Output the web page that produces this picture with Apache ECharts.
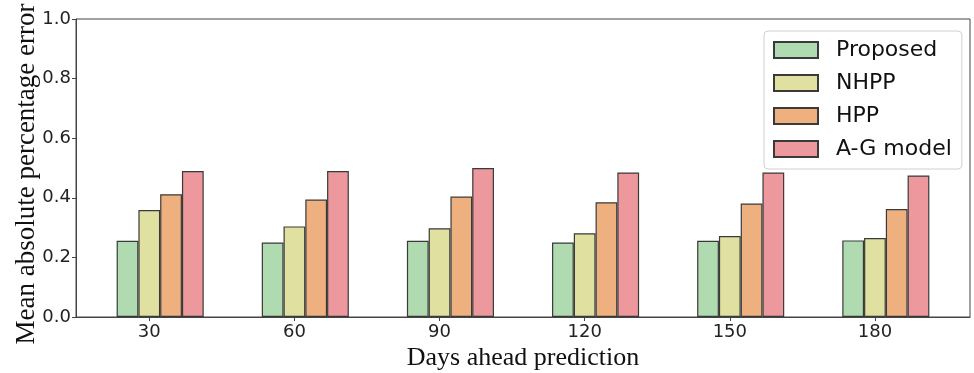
<!DOCTYPE html>
<html>
<head>
<meta charset="utf-8">
<script src="https://cdn.jsdelivr.net/npm/echarts@6/dist/echarts.min.js"></script>
<style>html,body{margin:0;padding:0;background:#fff}#c{width:974px;height:373px}</style>
</head>
<body>
<div id="c"></div>
<script>
const categories = ['30', '60', '90', '120', '150', '180'];
const seriesNames = ['Proposed', 'NHPP', 'HPP', 'A-G model'];
const proposed = [0.256, 0.250, 0.256, 0.250, 0.256, 0.257];
const nhpp     = [0.359, 0.304, 0.298, 0.281, 0.272, 0.265];
const hpp      = [0.412, 0.394, 0.404, 0.385, 0.381, 0.362];
const agModel  = [0.490, 0.490, 0.500, 0.485, 0.485, 0.475];
const yTicks = [0, 0.2, 0.4, 0.6, 0.8, 1.0];

const colors = ['#B0DAB0', '#E0E1A0', '#EDB07E', '#EC989C'];
const allValues = [proposed, nhpp, hpp, agModel];

// matplotlib-like layout: bar width 0.15, bars at i-w, i, i+w, i+2w; 5% margins
const W = 0.15;
const offsets = [-W, 0, W, 2 * W];
const dataMin = -W - W / 2, dataMax = categories.length - 1 + 2 * W + W / 2;
const span = dataMax - dataMin;
const xMin = dataMin - 0.05 * span, xMax = dataMax + 0.05 * span;
const gridLeft = 76, gridRight = 4;
const gridWidth = 974 - gridLeft - gridRight;
const barPx = W * gridWidth / (xMax - xMin);
const idx = categories.map((_, i) => i);

const series = seriesNames.map((name, k) => ({
  name: name,
  type: 'bar',
  barWidth: barPx,
  barGap: '-100%',
  itemStyle: { color: colors[k], borderColor: '#3a3a3a', borderWidth: 1.2 },
  emphasis: { disabled: true },
  data: allValues[k].map((v, i) => [i + offsets[k], v])
}));

const chart = echarts.init(document.getElementById('c'), null, { renderer: 'canvas' });
chart.setOption({
  animation: false,
  backgroundColor: '#fff',
  textStyle: { fontFamily: 'DejaVu Sans' },
  grid: { left: gridLeft, right: gridRight, top: 19, bottom: 56, outerBoundsMode: 'none', containLabel: false, show: true, borderColor: '#444', borderWidth: 1, backgroundColor: 'transparent' },
  legend: {
    orient: 'vertical',
    left: 764, top: 31,
    padding: [8, 10, 9, 9],
    itemWidth: 44, itemHeight: 16, itemGap: 11,
    backgroundColor: '#fff',
    borderColor: '#d0d0d0', borderWidth: 1, borderRadius: 4,
    icon: 'rect',
    textStyle: { fontFamily: 'DejaVu Sans', fontSize: 22, color: '#111', padding: [0, 0, 0, 13] },
    data: seriesNames
  },
  xAxis: {
    type: 'value',
    min: xMin, max: xMax,
    name: 'Days ahead prediction',
    nameLocation: 'middle',
    nameGap: 28,
    nameMoveOverlap: false,
    nameTextStyle: { fontFamily: 'Liberation Serif', fontSize: 26, color: '#111', verticalAlign: 'top' },
    axisLine: { show: true, onZero: false, lineStyle: { color: '#444', width: 1 } },
    axisTick: { show: true, customValues: idx, length: 4, lineStyle: { color: '#444' } },
    axisLabel: { customValues: idx, formatter: v => categories[Math.round(v)], fontFamily: 'DejaVu Sans', fontSize: 18, color: '#222', margin: 6 },
    splitLine: { show: false }
  },
  yAxis: {
    type: 'value',
    min: 0, max: 1, interval: 0.2,
    name: 'Mean absolute percentage error',
    nameLocation: 'middle',
    nameGap: 36,
    nameMoveOverlap: false,
    nameTextStyle: { fontFamily: 'Liberation Serif', fontSize: 27, color: '#111', padding: [0, 12, 0, 0] },
    axisLine: { show: true, onZero: false, lineStyle: { color: '#444', width: 1 } },
    axisTick: { show: true, customValues: yTicks, length: 4, lineStyle: { color: '#444' } },
    axisLabel: { customValues: yTicks, formatter: v => v.toFixed(1), fontFamily: 'DejaVu Sans', fontSize: 18, color: '#222', margin: 5 },
    splitLine: { show: false }
  },
  series: series
});
</script>
</body>
</html>
